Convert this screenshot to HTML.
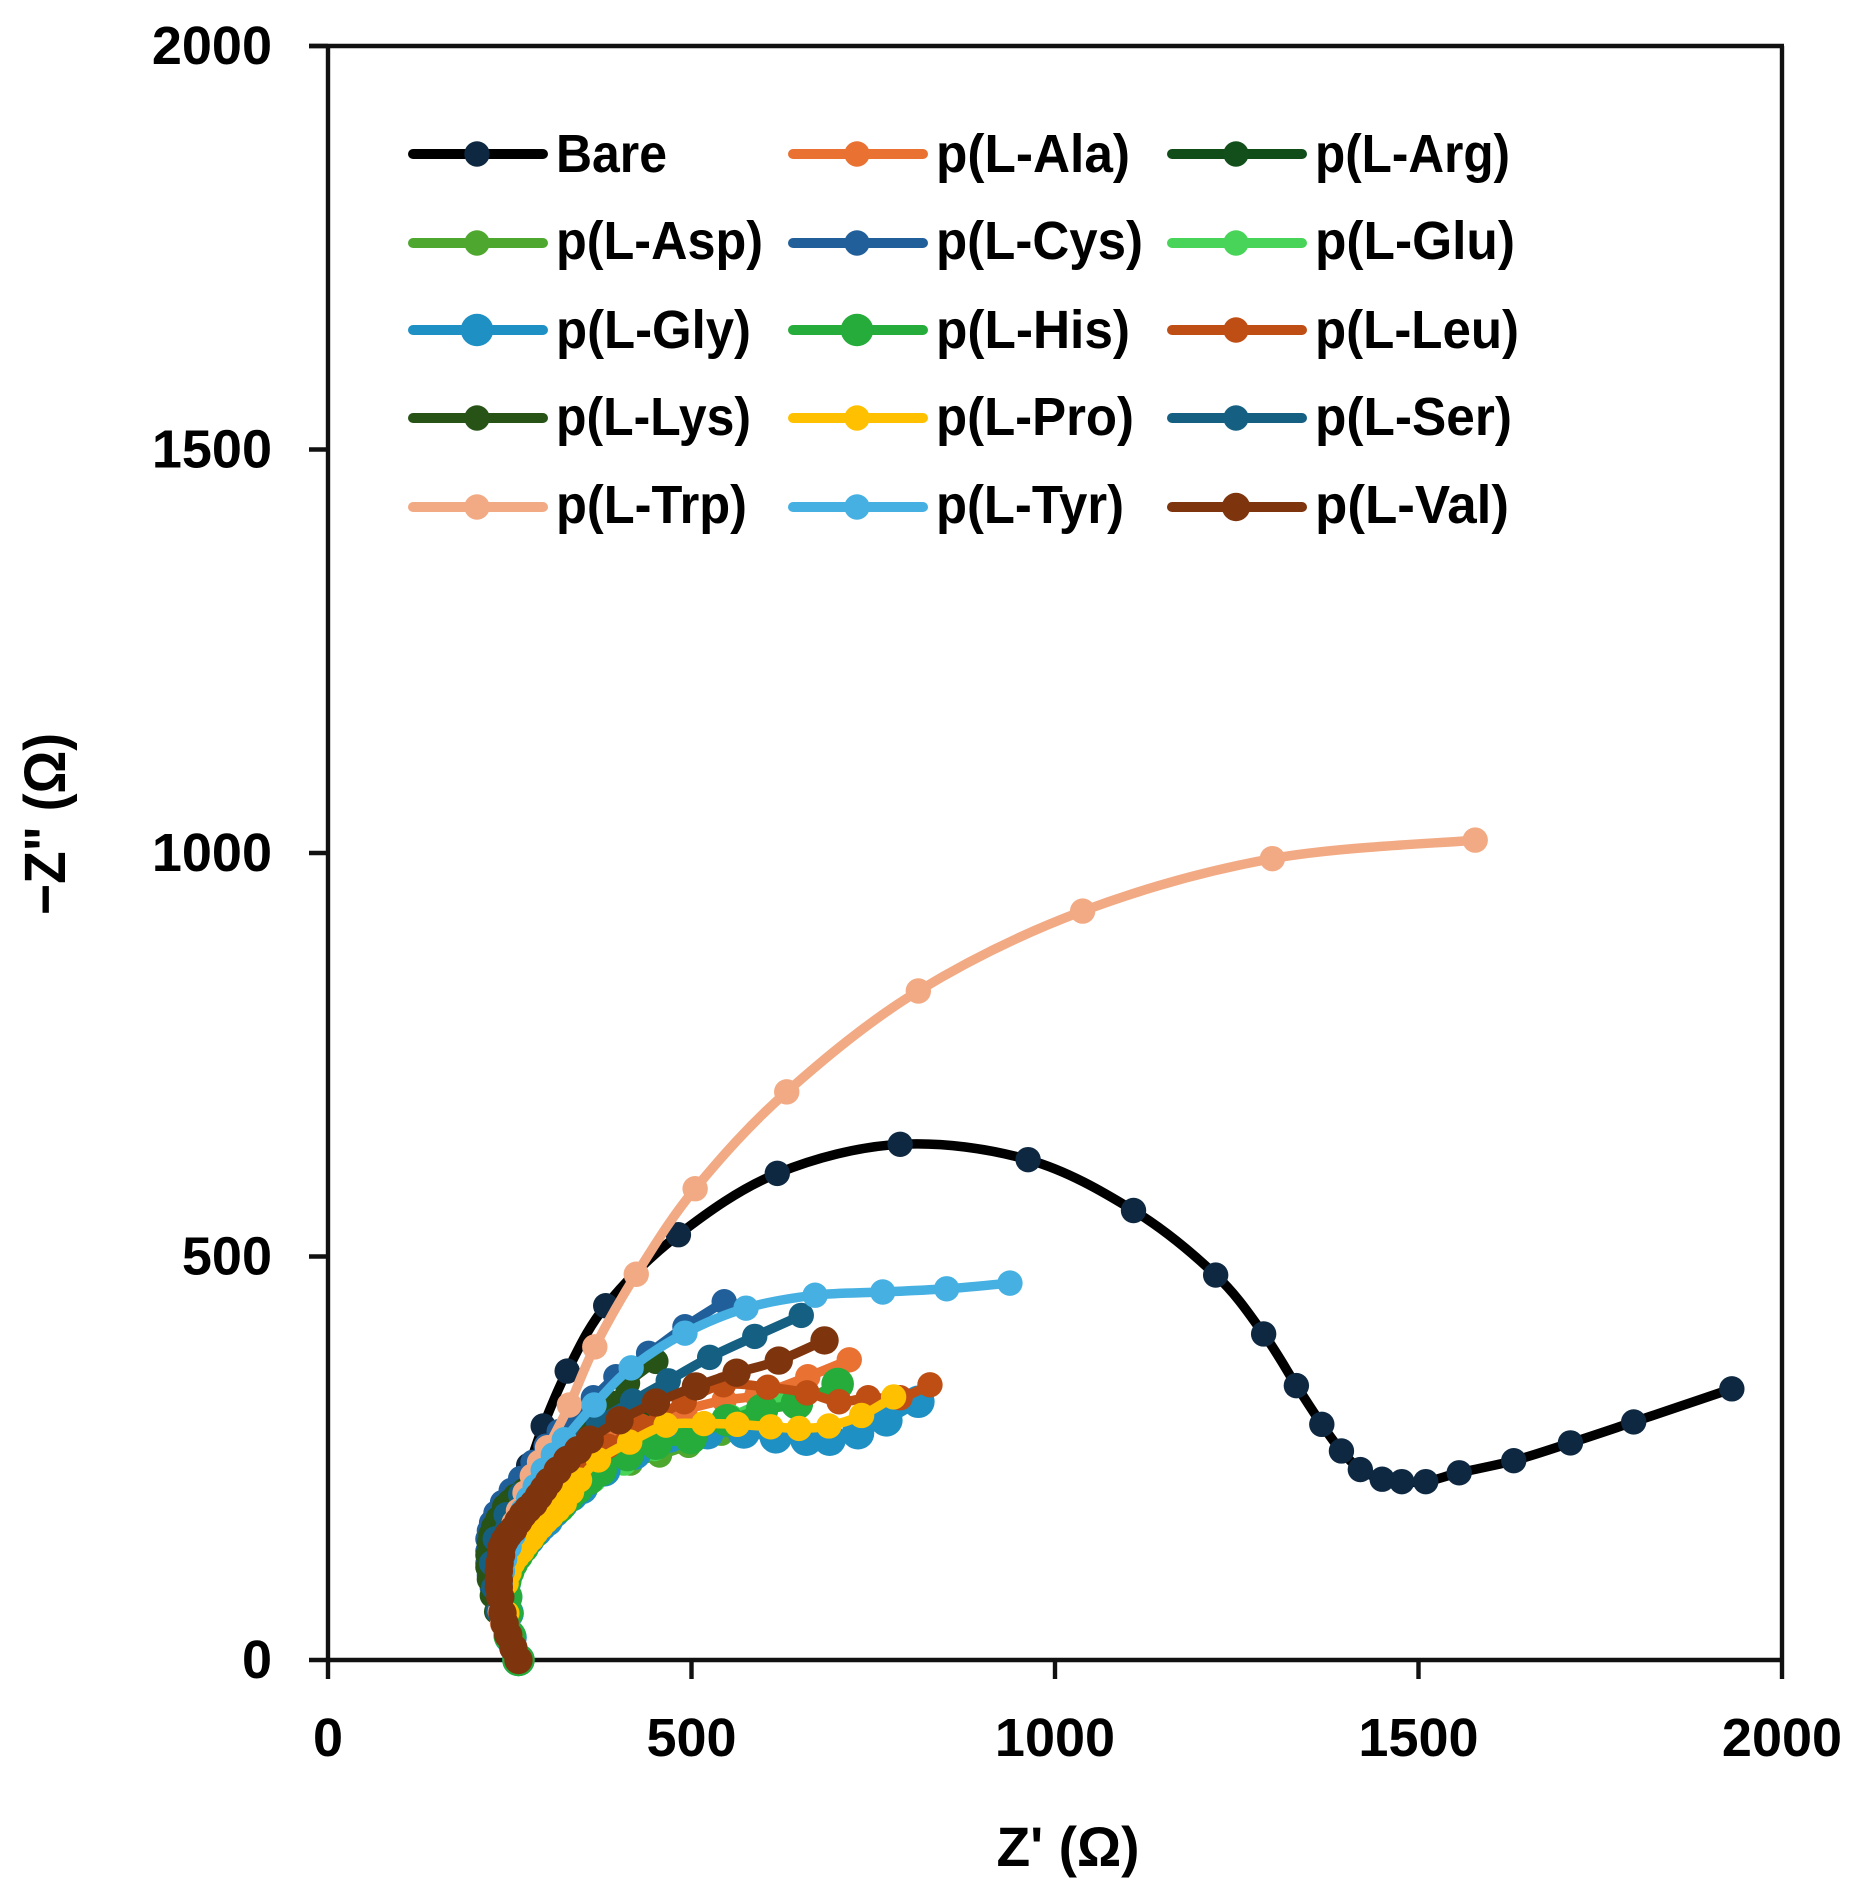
<!DOCTYPE html>
<html lang="en">
<head>
<meta charset="utf-8">
<title>Nyquist plot</title>
<style>
html,body{margin:0;padding:0;background:#fff;}
svg{display:block;}
text{font-family:"Liberation Sans",Arial,sans-serif;font-weight:bold;fill:#000;}
</style>
</head>
<body>
<svg id="chart" xmlns="http://www.w3.org/2000/svg" width="1858" height="1894" viewBox="0 0 1858 1894">
  <rect x="0" y="0" width="1858" height="1894" fill="#fff"/>
  <g id="axes"></g>
  <g id="series"></g>
  <g id="legend"></g>
  <text x="1068" y="1866" font-size="56" text-anchor="middle" textLength="143" lengthAdjust="spacingAndGlyphs">Z' (Ω)</text>
  <text transform="translate(65,824) rotate(-90)" font-size="58" text-anchor="middle" textLength="182" lengthAdjust="spacingAndGlyphs">−Z" (Ω)</text>
</svg>
<script>
const xTicks = [0, 500, 1000, 1500, 2000];
const yTicks = [0, 500, 1000, 1500, 2000];

const bareX = [262,248,238,232,228,232,240,255,276,296,329,382,482,618,787,963,1108,1221,1287,1332,1367,1394,1420,1450,1477,1510,1556,1631,1709,1796,1931];
const bareY = [0,31,58,90,120,150,180,211,241,290,358,439,527,603,639,620,557,477,404,340,292,259,236,224,221,221,232,247,269,295,336];
const alaX = [262,245,240,246,255,268,285,305,330,360,400,440,491,545,590,660,717];
const alaY = [0,35,70,100,125,150,175,200,225,250,275,295,310,322,328,351,372];
const argX = [262,248,243,240,245,265,300,337,380,438];
const argY = [0,31,60,90,120,150,180,201,240,297];
const aspX = [262,250,246,243,252,268,290,318,346,379,416,456,496,541];
const aspY = [0,30,58,95,120,145,172,190,213,231,244,254,266,281];
const cysX = [262,245,233,226,222,220,220,220,222,225,231,240,252,265,282,300,318,336,365,396,441,491,545];
const cysY = [0,31,60,90,105,120,135,150,160,170,182,195,210,225,245,265,283,301,325,351,380,413,444];
const gluX = [262,250,246,244,248,253,261,270,281,292,302,312,324,336,365,407,449,496,554,617];
const gluY = [0,30,58,95,108,120,132,145,158,170,180,190,196,202,223,244,262,272,301,326];
const glyX = [262,251,247,245,243,246,252,259,268,276,286,293,301,311,322,335,349,380,422,470,522,572,616,658,690,729,768,812];
const glyY = [0,28,58,78,95,108,120,130,140,150,160,167,173,184,194,204,213,235,256,277,281,282,276,273,273,281,297,320];
const hisX = [262,250,246,245,244,248,253,260,268,279,292,304,318,330,343,358,375,412,451,499,549,597,645,701];
const hisY = [0,30,58,78,99,110,120,130,140,155,172,181,190,202,213,224,235,254,268,275,297,310,318,342];
const leuX = [262,246,236,232,240,256,280,310,345,385,430,490,544,605,659,703,743,787,828];
const leuY = [0,31,60,95,120,145,170,200,235,265,290,320,341,338,331,320,325,325,341];
const lysX = [262,246,232,226,222,220,220,222,224,228,234,243,250,258,270,285,301,317,333,349,365,378,391,412,451];
const lysY = [0,31,60,80,100,115,130,145,155,165,175,190,196,203,210,220,231,245,260,275,289,303,318,343,370];
const proX = [262,250,246,245,249,254,260,267,273,280,286,293,300,307,316,325,335,346,372,415,465,517,563,609,648,689,734,778];
const proY = [0,30,58,95,108,120,128,135,143,150,158,165,172,178,186,194,208,223,248,270,291,293,292,289,287,290,303,326];
const serX = [262,246,234,228,225,230,245,265,295,325,351,372,419,468,525,587,651];
const serY = [0,31,60,90,120,150,180,205,232,258,270,295,321,346,375,401,427];
const trpX = [262,247,240,237,235,237,240,245,250,256,262,271,281,291,302,332,367,424,505,631,812,1038,1299,1578];
const trpY = [0,31,45,60,95,110,125,140,155,170,185,207,228,245,263,316,388,478,584,704,829,928,993,1016];
const tyrX = [262,247,238,237,240,243,249,255,261,268,276,285,296,310,325,366,417,491,575,670,763,851,938];
const tyrY = [0,31,60,95,110,125,140,155,170,185,200,215,235,254,273,316,362,405,436,452,456,460,467];
const valX = [262,255,248,243,240,237,235,235,235,236,238,239,243,248,255,262,268,275,283,290,297,304,316,329,344,360,401,451,506,562,620,683];
const valY = [0,15,31,45,58,78,90,99,110,120,130,140,148,155,162,172,180,187,194,203,212,221,235,248,260,273,297,319,339,356,371,396];

const seriesList = [
  {key:'bare', label:'Bare',     xs:bareX, ys:bareY, line:'#000000', fill:'#0E2841', r:12.7, textW:111},
  {key:'ala',  label:'p(L-Ala)', xs:alaX,  ys:alaY,  line:'#E97132', fill:'#E97132', r:12.7, textW:194},
  {key:'arg',  label:'p(L-Arg)', xs:argX,  ys:argY,  line:'#104D18', fill:'#124F1A', r:12.7, textW:195},
  {key:'asp',  label:'p(L-Asp)', xs:aspX,  ys:aspY,  line:'#4EA72E', fill:'#4EA72E', r:12.7, textW:207},
  {key:'cys',  label:'p(L-Cys)', xs:cysX,  ys:cysY,  line:'#215F9A', fill:'#215F9A', r:12.7, textW:207},
  {key:'glu',  label:'p(L-Glu)', xs:gluX,  ys:gluY,  line:'#47D459', fill:'#47D459', r:12.7, textW:200},
  {key:'gly',  label:'p(L-Gly)', xs:glyX,  ys:glyY,  line:'#1E90C3', fill:'#1E90C3', r:16.3, textW:195},
  {key:'his',  label:'p(L-His)', xs:hisX,  ys:hisY,  line:'#25AC3A', fill:'#25AC3A', r:16.3, textW:194},
  {key:'leu',  label:'p(L-Leu)', xs:leuX,  ys:leuY,  line:'#BF4E14', fill:'#BF4E14', r:12.7, textW:204},
  {key:'lys',  label:'p(L-Lys)', xs:lysX,  ys:lysY,  line:'#275317', fill:'#275317', r:12.7, textW:195},
  {key:'pro',  label:'p(L-Pro)', xs:proX,  ys:proY,  line:'#FFC000', fill:'#FFC000', r:12.7, textW:198},
  {key:'ser',  label:'p(L-Ser)', xs:serX,  ys:serY,  line:'#156082', fill:'#156082', r:12.7, textW:197},
  {key:'trp',  label:'p(L-Trp)', xs:trpX,  ys:trpY,  line:'#F2AA84', fill:'#F2AA84', r:12.7, textW:191},
  {key:'tyr',  label:'p(L-Tyr)', xs:tyrX,  ys:tyrY,  line:'#45B0E1', fill:'#45B0E1', r:12.7, textW:188},
  {key:'val',  label:'p(L-Val)', xs:valX,  ys:valY,  line:'#7E350E', fill:'#7E350E', r:14.2, textW:194}
];

const NS = 'http://www.w3.org/2000/svg';
const plot = {left:328, right:1782, top:46, bottom:1660, xMax:2000, yMax:2000};
function sx(v){ return plot.left + v / plot.xMax * (plot.right - plot.left); }
function sy(v){ return plot.bottom - v / plot.yMax * (plot.bottom - plot.top); }
function mk(tag, attrs){
  const el = document.createElementNS(NS, tag);
  for (const k in attrs) el.setAttribute(k, attrs[k]);
  return el;
}

const axes = document.getElementById('axes');
const frameSides = [
  ['axis-top', 309, plot.top, plot.right + 2, plot.top],
  ['axis-left', plot.left, plot.top, plot.left, plot.bottom],
  ['axis-right', plot.right, plot.top, plot.right, plot.bottom],
  ['axis-bottom', plot.left, plot.bottom, plot.right, plot.bottom]
];
frameSides.forEach(function(f){
  const l = mk('line', {x1:f[1], y1:f[2], x2:f[3], y2:f[4], stroke:'#111', 'stroke-width':4.4});
  
  
  axes.appendChild(l);
});
xTicks.forEach(function(v){
  const t = mk('line', {x1:sx(v), y1:plot.bottom, x2:sx(v), y2:plot.bottom + 19, stroke:'#111', 'stroke-width':4.4});
  
  
  axes.appendChild(t);
  const tx = mk('text', {x:sx(v), y:1756, 'font-size':54, 'text-anchor':'middle'});
  tx.textContent = String(v);
  
  
  axes.appendChild(tx);
});
yTicks.forEach(function(v){
  const t = mk('line', {x1:309, y1:sy(v), x2:plot.left, y2:sy(v), stroke:'#111', 'stroke-width':4.4});
  
  
  axes.appendChild(t);
  const tx = mk('text', {x:272, y:sy(v) + 18, 'font-size':54, 'text-anchor':'end'});
  tx.textContent = String(v);
  
  
  axes.appendChild(tx);
});

function smoothPath(pts){
  let d = 'M' + pts[0][0].toFixed(1) + ' ' + pts[0][1].toFixed(1);
  for (let i = 0; i < pts.length - 1; i++){
    const p0 = pts[Math.max(i - 1, 0)], p1 = pts[i], p2 = pts[i + 1], p3 = pts[Math.min(i + 2, pts.length - 1)];
    const c1x = p1[0] + (p2[0] - p0[0]) / 6, c1y = p1[1] + (p2[1] - p0[1]) / 6;
    const c2x = p2[0] - (p3[0] - p1[0]) / 6, c2y = p2[1] - (p3[1] - p1[1]) / 6;
    d += 'C' + c1x.toFixed(1) + ' ' + c1y.toFixed(1) + ' ' + c2x.toFixed(1) + ' ' + c2y.toFixed(1) + ' ' + p2[0].toFixed(1) + ' ' + p2[1].toFixed(1);
  }
  return d;
}

const seriesRoot = document.getElementById('series');
seriesList.forEach(function(s){
  const g = mk('g', {});
  
  
  const pts = s.xs.map(function(x, i){ return [sx(x), sy(s.ys[i])]; });
  const path = mk('path', {d:smoothPath(pts), fill:'none', stroke:s.line, 'stroke-width':9.5, 'stroke-linejoin':'round', 'stroke-linecap':'round'});
  
  
  g.appendChild(path);
  pts.forEach(function(p){
    const c = mk('circle', {cx:p[0], cy:p[1], r:s.r, fill:s.fill});
    
    
    g.appendChild(c);
  });
  seriesRoot.appendChild(g);
});

const legendRoot = document.getElementById('legend');
const legendLineX = [409, 789, 1168];
const legendRowY = [154, 243, 330, 418, 507];
const legendBaseY = [172, 259, 348, 435, 523];
seriesList.forEach(function(s, i){
  const col = i % 3, row = Math.floor(i / 3);
  const x0 = legendLineX[col], y0 = legendRowY[row];
  const g = mk('g', {});
  
  
  const ln = mk('line', {x1:x0 + 4, y1:y0, x2:x0 + 134, y2:y0, stroke:s.line, 'stroke-width':10, 'stroke-linecap':'round'});
  
  
  g.appendChild(ln);
  const dot = mk('circle', {cx:x0 + 68, cy:y0, r:s.r, fill:s.fill});
  
  
  g.appendChild(dot);
  const tx = mk('text', {x:x0 + 147, y:legendBaseY[row], 'font-size':54, textLength:s.textW, lengthAdjust:'spacingAndGlyphs'});
  tx.textContent = s.label;
  
  
  g.appendChild(tx);
  legendRoot.appendChild(g);
});
</script>
</body>
</html>
